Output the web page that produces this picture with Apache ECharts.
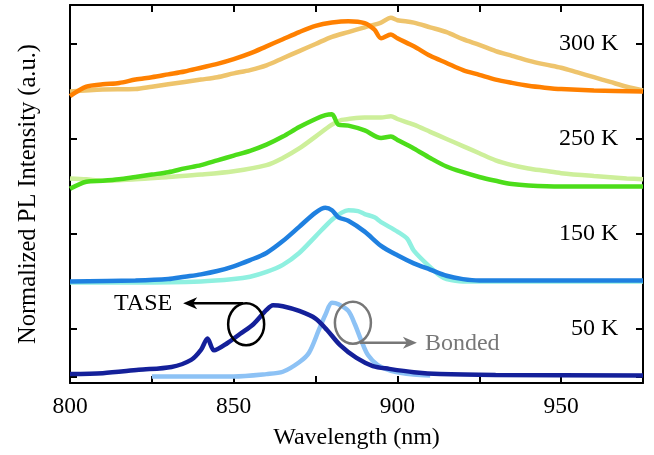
<!DOCTYPE html>
<html>
<head>
<meta charset="UTF-8">
<title>PL spectra</title>
<script src="https://cdn.jsdelivr.net/npm/echarts@6/dist/echarts.min.js"></script>
<style>
body { margin: 0; padding: 0; background: #fff; }
#main { width: 654px; height: 455px; }
</style>
</head>
<body>
<div id="main"></div>
<script>
// [wavelength nm, normalized intensity] - each panel relative to its own baseline
var tase300 = [[800,-0.1],[805,0.1],[810,0.15],[815,0.18],[820,0.25],[825,0.3],[830,0.36],[835,0.42],[840,0.5],[845,0.58],[850,0.68],[855,0.8],[860,0.95],[865,1.1],[870,1.25],[875,1.38],[880,1.45],[885,1.48],[890,1.44],[893,1.3],[895,1.12],[898,1.2],[900,1.12],[905,0.95],[910,0.75],[915,0.6],[920,0.45],[925,0.35],[930,0.25],[935,0.18],[940,0.12],[945,0.08],[950,0.05],[960,0.02],[975,0.0]];
var bond300 = [[800,0.0],[810,0.04],[820,0.05],[825,0.1],[830,0.15],[840,0.25],[845,0.3],[850,0.38],[855,0.45],[860,0.55],[865,0.7],[870,0.85],[875,1.0],[880,1.15],[885,1.25],[890,1.35],[895,1.45],[898,1.55],[900,1.5],[905,1.45],[910,1.35],[915,1.25],[920,1.1],[925,0.98],[930,0.85],[935,0.75],[940,0.65],[945,0.57],[950,0.5],[955,0.4],[960,0.3],[965,0.2],[970,0.1],[975,0.02]];

var tase250 = [[800,-0.05],[805,0.1],[810,0.12],[815,0.15],[820,0.2],[825,0.25],[830,0.3],[835,0.38],[840,0.45],[845,0.55],[850,0.65],[855,0.75],[860,0.88],[865,1.05],[870,1.25],[875,1.42],[878,1.5],[880,1.52],[882,1.3],[885,1.28],[890,1.18],[895,1.02],[898,1.05],[900,0.98],[905,0.8],[910,0.6],[915,0.42],[920,0.3],[925,0.2],[930,0.12],[935,0.05],[940,0.02],[950,0.0],[975,0.0]];
var bond250 = [[800,0.17],[805,0.15],[810,0.12],[820,0.15],[830,0.2],[840,0.25],[850,0.32],[860,0.45],[865,0.6],[870,0.8],[875,1.05],[880,1.3],[883,1.4],[885,1.42],[890,1.45],[895,1.45],[898,1.48],[900,1.42],[905,1.3],[910,1.15],[915,1.0],[920,0.85],[925,0.7],[930,0.55],[935,0.45],[940,0.38],[945,0.33],[950,0.28],[960,0.22],[970,0.17],[975,0.15]];

var tase150 = [[800,0.0],[820,0.02],[830,0.05],[835,0.1],[840,0.15],[845,0.22],[850,0.32],[855,0.45],[860,0.6],[865,0.85],[870,1.15],[875,1.45],[878,1.55],[880,1.5],[882,1.35],[885,1.28],[890,1.05],[895,0.75],[900,0.55],[905,0.38],[910,0.25],[915,0.12],[920,0.05],[925,0.02],[930,0.02],[975,0.02]];
var bond150 = [[800,-0.02],[820,-0.02],[840,0.0],[850,0.05],[855,0.1],[860,0.2],[865,0.35],[870,0.6],[875,0.95],[880,1.3],[883,1.45],[885,1.5],[888,1.48],[890,1.42],[893,1.35],[895,1.25],[900,1.05],[903,0.9],[905,0.65],[910,0.3],[913,0.12],[915,0.05],[920,0.0],[975,0.0]];

var tase50 = [[800,0.05],[810,0.07],[821,0.14],[831,0.2],[837,0.35],[840,0.56],[842,0.8],[844,0.55],[848,0.7],[852,0.9],[856,1.1],[860,1.4],[862,1.5],[865,1.48],[870,1.38],[875,1.22],[878.5,0.98],[882.5,0.66],[887.5,0.39],[892.5,0.22],[897.5,0.16],[905,0.09],[913,0.05],[930,0.03],[975,0.02]];
var bond50 = [[825,0.0],[850,0.0],[860,0.05],[865,0.1],[870,0.3],[873,0.5],[876,0.98],[878,1.3],[880,1.55],[882,1.52],[885,1.38],[887,1.1],[889,0.75],[891,0.45],[894,0.24],[898,0.12],[905,0.04],[910,0.02]];

var tempLabels = ['300 K', '250 K', '150 K', '50 K'];
var panelBase = [6, 4, 2, 0];
var yTicks = [0, 1, 2, 3, 4, 5, 6, 7];

var chart = echarts.init(document.getElementById('main'));
var FONT = 'Liberation Serif';

function shift(d, b) {
	return d.map(function (p) { return [p[0], p[1] + b]; });
}
function line(name, d, b, color) {
	return {
		name: name,
		type: 'line',
		data: shift(d, b),
		showSymbol: false,
		smooth: 0.3,
		lineStyle: { color: color, width: 4.5 },
		z: 2
	};
}

var series = [
	line('bond300', bond300, panelBase[0], '#eec46c'),
	line('tase300', tase300, panelBase[0], '#ff8000'),
	line('bond250', bond250, panelBase[1], '#cdef9a'),
	line('tase250', tase250, panelBase[1], '#4cdd1a'),
	line('bond150', bond150, panelBase[2], '#8ff0e0'),
	line('tase150', tase150, panelBase[2], '#1f80e0'),
	line('bond50', bond50, panelBase[3], '#8dc2f5'),
	line('tase50', tase50, panelBase[3], '#14209a')
];

var axisLineStyle = { color: '#000', width: 2 };
var tickStyle = { color: '#000', width: 2 };

chart.setOption({
	animation: false,
	grid: { left: 70, right: 11, top: 5, bottom: 72 },
	xAxis: [{
		type: 'value', min: 800, max: 975, interval: 25,
		name: 'Wavelength (nm)', nameLocation: 'middle', nameGap: 43,
		nameTextStyle: { fontFamily: FONT, fontSize: 24, color: '#000' },
		axisLine: { onZero: false, lineStyle: axisLineStyle },
		axisTick: { inside: true, length: 7, lineStyle: tickStyle },
		axisLabel: {
			fontFamily: FONT, fontSize: 23.5, color: '#000', margin: 12,
			formatter: function (v) { return v % 50 === 0 && v < 975 ? v : ''; }
		},
		splitLine: { show: false }
	}, {
		type: 'value', min: 800, max: 975, interval: 25, position: 'top',
		axisLine: { onZero: false, lineStyle: axisLineStyle },
		axisTick: { inside: true, length: 7, lineStyle: tickStyle },
		axisLabel: { show: false },
		splitLine: { show: false }
	}],
	yAxis: [{
		type: 'value', min: -0.137, max: 7.82,
		name: 'Normalized PL Intensity (a.u.)', nameLocation: 'middle', nameGap: 29,
		nameTextStyle: { fontFamily: FONT, fontSize: 24.5, color: '#000' },
		axisLine: { show: true, onZero: false, lineStyle: axisLineStyle },
		axisTick: { show: true, inside: true, length: 7, customValues: yTicks, lineStyle: tickStyle },
		axisLabel: { show: false },
		splitLine: { show: false }
	}, {
		type: 'value', min: -0.137, max: 7.82, position: 'right',
		axisLine: { show: true, onZero: false, lineStyle: axisLineStyle },
		axisTick: { show: true, inside: true, length: 7, customValues: yTicks, lineStyle: tickStyle },
		axisLabel: { show: false },
		splitLine: { show: false }
	}],
	series: series
});

// annotations placed in data coordinates
function px(x, y) { return chart.convertToPixel({ xAxisIndex: 0, yAxisIndex: 0 }, [x, y]); }

function arrow(from, to, color) {
	var dx = to[0] - from[0], dy = to[1] - from[1];
	var len = Math.sqrt(dx * dx + dy * dy), ux = dx / len, uy = dy / len;
	var hl = 14, hw = 6, back = 4;
	var bx = to[0] - ux * hl, by = to[1] - uy * hl;
	var nx = -uy, ny = ux;
	return [{
		type: 'line', z: 10,
		shape: { x1: from[0], y1: from[1], x2: to[0] - ux * 8, y2: to[1] - uy * 8 },
		style: { stroke: color, lineWidth: 2.5 }
	}, {
		type: 'polygon', z: 10,
		shape: { points: [to, [bx + nx * hw, by + ny * hw], [to[0] - ux * (hl - back), to[1] - uy * (hl - back)], [bx - nx * hw, by - ny * hw]] },
		style: { fill: color }
	}];
}

var els = [];
tempLabels.forEach(function (t, i) {
	var p = px(967.5, panelBase[i] + 1);
	els.push({
		type: 'text', x: p[0], y: p[1], z: 10,
		style: { text: t, fontFamily: FONT, fontSize: 24, fill: '#000', align: 'right', verticalAlign: 'middle' }
	});
});

var c1 = px(853.8, 1.1), c2 = px(886.4, 1.13);
els.push({ type: 'ellipse', z: 10, shape: { cx: c1[0], cy: c1[1], rx: 18, ry: 21 }, style: { fill: 'none', stroke: '#000', lineWidth: 2.5 } });
els.push({ type: 'ellipse', z: 10, shape: { cx: c2[0], cy: c2[1], rx: 18, ry: 21 }, style: { fill: 'none', stroke: '#777', lineWidth: 2.5 } });

els = els.concat(arrow([c1[0] - 3, c1[1] - 21], [c1[0] - 63, c1[1] - 21], '#000'));
els = els.concat(arrow([c2[0] + 7, c2[1] + 20], [c2[0] + 64, c2[1] + 20], '#777'));

els.push({ type: 'text', x: c1[0] - 74, y: c1[1] - 21, z: 10,
	style: { text: 'TASE', fontFamily: FONT, fontSize: 24, fill: '#000', align: 'right', verticalAlign: 'middle' } });
els.push({ type: 'text', x: c2[0] + 72, y: c2[1] + 21, z: 10,
	style: { text: 'Bonded', fontFamily: FONT, fontSize: 24, fill: '#777', align: 'left', verticalAlign: 'middle' } });

chart.setOption({ graphic: { elements: els } });
</script>
</body>
</html>
